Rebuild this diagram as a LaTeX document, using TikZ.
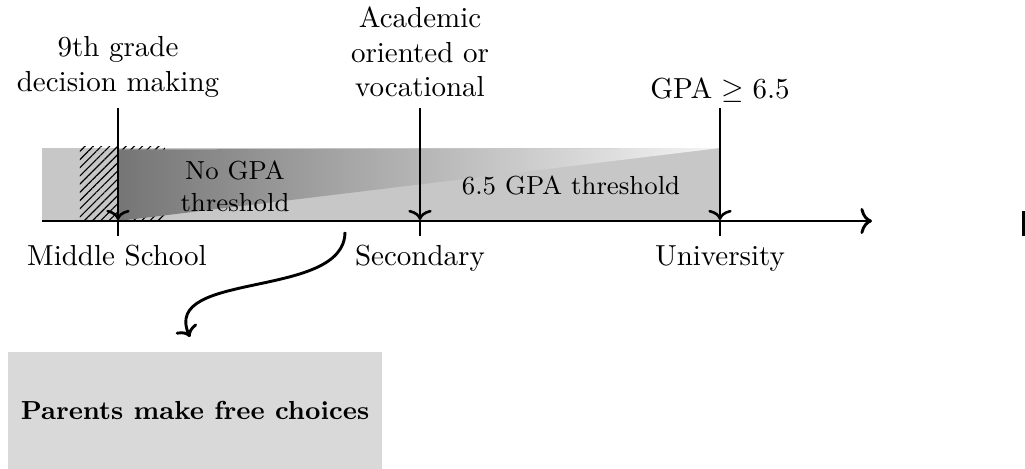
\documentclass[tikz,border=0pt]{standalone}
\usetikzlibrary{patterns.meta,arrows.meta}
\begin{document}
\begin{tikzpicture}[x=0.345pt,y=-0.345pt,
  lbl/.style={align=center,inner sep=0pt},
  smalllbl/.style={align=center,inner sep=0pt,font=\small},
  tickline/.style={line width=0.9pt,-{To[length=3.5pt,width=8pt]}},
  axisline/.style={line width=1pt,-{To[length=4pt,width=9pt]}},
  bendarrow/.style={line width=1pt,-{To[length=3.5pt,width=8pt]}}]
\useasboundingbox (0,0) rectangle (1025,469);
% bands
\fill[black!22] (42,148) rectangle (720,221);
\fill[pattern={Lines[angle=45,distance=2pt,line width=0.4pt]}] (80,147) rectangle (165,221);
\shade[left color=black!54,right color=black!4] (118,149.5) -- (720,148) -- (118,221) -- cycle;
% axis
\coordinate (a0) at (42,221);
\coordinate (a1) at (872,221);
\draw[axisline] (a0) -- (a1);
% ticks
\foreach \n/\x in {m/118,s/420,u/720}{
  \coordinate (\n top) at (\x,108);
  \coordinate (\n axis) at (\x,220);
  \coordinate (\n bot) at (\x,236);
  \draw[tickline] (\n top) -- (\n axis);
  \draw[line width=0.9pt] (\n axis) -- (\n bot);
}
% labels above
\node[lbl] (nine) at (118,67) {9th grade\\decision making};
\node[lbl] (acad) at (420,52) {Academic\\oriented or\\vocational};
\node[lbl,anchor=base] (gpa) at (720,99) {GPA $\geq 6.5$};
% labels below
\node[lbl,anchor=base] (ms) at (117,266) {Middle School};
\node[lbl,anchor=base] (sec) at (420,266) {Secondary};
\node[lbl,anchor=base] (uni) at (720,266) {University};
% band labels
\node[smalllbl] (nogpa) at (235,186) {No GPA\\threshold};
\node[smalllbl,anchor=base] (thr) at (571,195) {6.5 GPA threshold};
% box
\node[fill=black!15,minimum width=129pt,minimum height=40.4pt,font=\small\bfseries,inner sep=0pt] (box) at (195,410.5) {Parents make free choices};
% curved arrow
\coordinate (cs) at (345,232);
\coordinate (ce) at (190,337);
\draw[bendarrow] (cs) .. controls (345,300) and (160,270) .. (ce);
% edge mark
\fill (1022,211) rectangle (1025,236);
\end{tikzpicture}
\end{document}
